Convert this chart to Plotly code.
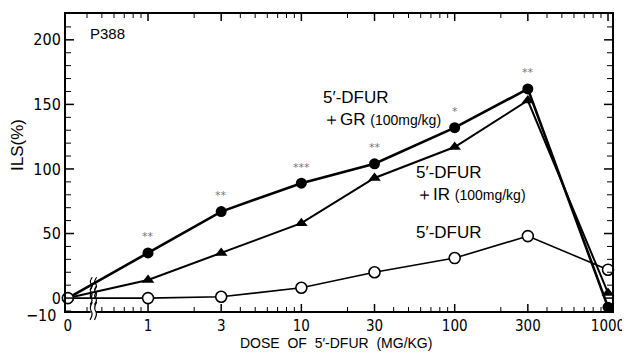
import numpy as np
import plotly.graph_objects as go

# ---- data ----
dose_labels = ["0", "1", "3", "10", "30", "100", "300", "1000"]
doses = [0, 1, 3, 10, 30, 100, 300, 1000]
ils_gr = [0, 35, 67, 89, 104, 132, 162, -7]      # 5'-DFUR + GR (100mg/kg)
ils_ir = [0, 14, 35, 58, 93, 117, 153, 4]        # 5'-DFUR + IR (100mg/kg)
ils_dfur = [0, 0, 1, 8, 20, 31, 48, 22]          # 5'-DFUR alone
sig_marks = ["**", "**", "***", "**", "*", "**"]  # significance marks on GR points
sig_dose = [1, 3, 10, 30, 100, 300]
sig_val = [35, 67, 89, 104, 132, 162]
y_ticks = [0, 50, 100, 150, 200]
y_minor = [-10, 10, 20, 30, 40, 60, 70, 80, 90, 110, 120, 130, 140,
           160, 170, 180, 190, 210]
x_minor = [0.4, 0.5, 0.6, 0.7, 0.8, 0.9,
           2, 4, 5, 6, 7, 8, 9,
           20, 40, 50, 60, 70, 80, 90,
           200, 400, 500, 600, 700, 800, 900]

ZERO_POS = 0.3   # position on the broken log axis where dose 0 is drawn
BREAK_POS = 0.44
xpos = [ZERO_POS if d == 0 else d for d in doses]

XMIN, XMAX = -0.535, 3.026
YMIN, YMAX = -10, 220
PLOT_W, PLOT_H = 546, 297

MAIN_FONT = "Liberation Sans, Arial, sans-serif"
NARROW = "DejaVu Sans Condensed, Liberation Sans Narrow, sans-serif"

fig = go.Figure()
fig.add_trace(go.Scatter(x=xpos, y=ils_gr, mode="lines+markers",
                         line=dict(color="black", width=2.6),
                         marker=dict(symbol="circle", size=11, color="black"),
                         cliponaxis=False, showlegend=False))
fig.add_trace(go.Scatter(x=xpos, y=ils_ir, mode="lines+markers",
                         line=dict(color="black", width=2),
                         marker=dict(symbol="triangle-up", size=11, color="black"),
                         cliponaxis=False, showlegend=False))
fig.add_trace(go.Scatter(x=xpos, y=ils_dfur, mode="lines+markers",
                         line=dict(color="black", width=1.6),
                         marker=dict(symbol="circle", size=11, color="white",
                                     line=dict(color="black", width=1.6)),
                         cliponaxis=False, showlegend=False))

# significance marks
for d, v, s in zip(sig_dose, sig_val, sig_marks):
    fig.add_annotation(x=np.log10(d), y=v, text=s, showarrow=False,
                       yshift=16, font=dict(size=11, color="#777777",
                                            family="DejaVu Sans"))

# series labels
lab_font = dict(size=17, color="black", family=MAIN_FONT)
small = "<span style='font-size:14px'>(100mg/kg)</span>"
fig.add_annotation(x=1.125, y=147, xanchor="left", yanchor="middle",
                   text="5′-DFUR<br>＋GR " + small,
                   showarrow=False, align="left", font=lab_font)
fig.add_annotation(x=1.735, y=89, xanchor="left", yanchor="middle",
                   text="5′-DFUR<br>＋IR " + small,
                   showarrow=False, align="left", font=lab_font)
fig.add_annotation(x=1.735, y=51, xanchor="left", yanchor="middle",
                   text="5′-DFUR", showarrow=False, align="left", font=lab_font)
fig.add_annotation(xref="paper", yref="paper", x=0.04, y=(311 - 33) / 297,
                   xanchor="left", yanchor="middle",
                   text="P388", showarrow=False,
                   font=dict(size=15, color="black", family=MAIN_FONT))

# axis titles
fig.add_annotation(xref="paper", yref="paper", x=(17 - 66) / 546, y=(311 - 145) / 297,
                   text="ILS(%)", textangle=-90, showarrow=False,
                   xanchor="center", yanchor="middle",
                   font=dict(size=17, color="black", family=MAIN_FONT))
fig.add_annotation(xref="paper", yref="paper", x=(336 - 66) / 546, y=-(343 - 311) / 297,
                   xanchor="center", yanchor="middle",
                   text="DOSE&nbsp; OF&nbsp; 5′-DFUR&nbsp; (MG/KG)", showarrow=False,
                   font=dict(size=14, color="black", family=MAIN_FONT))
# bottom y tick label (kept apart from the 0 label)
fig.add_annotation(xref="paper", yref="y", x=-0.015, y=YMIN, xanchor="right",
                   yanchor="middle", yshift=-4, text="−10", showarrow=False,
                   font=dict(size=16, family=NARROW, color="black"))


def xfrac(v):
    return (np.log10(v) - XMIN) / (XMAX - XMIN)


# inside tick marks on all four sides, placed from the tick lists
def add_xtick(v, length_px, width):
    fx = xfrac(v)
    ly = length_px / PLOT_H
    for y0, y1 in ((0, ly), (1 - ly, 1)):
        fig.add_shape(type="line", xref="paper", yref="paper", x0=fx, x1=fx,
                      y0=y0, y1=y1, line=dict(color="black", width=width))


def add_ytick(v, length_px, width):
    lx = length_px / PLOT_W
    for x0, x1 in ((0, lx), (1 - lx, 1)):
        fig.add_shape(type="line", xref="paper", yref="y", x0=x0, x1=x1,
                      y0=v, y1=v, line=dict(color="black", width=width))


for v in xpos:
    if v != ZERO_POS:
        add_xtick(v, 7, 1.5)
for v in x_minor:
    add_xtick(v, 4, 1)
for v in y_ticks:
    add_ytick(v, 8, 1.5)
for v in y_minor:
    add_ytick(v, 5, 1)

# axis break marks
bx = xfrac(BREAK_POS)
fig.add_shape(type="rect", xref="paper", yref="paper", x0=bx - 0.005, x1=bx + 0.005,
              y0=-0.01, y1=0.01, fillcolor="white", line=dict(width=0))
for off in (-0.004, 0.004):
    xc = bx + off
    fig.add_shape(type="path", xref="paper", yref="paper",
                  path=f"M {xc-0.002},-0.03 Q {xc+0.004},-0.01 {xc},0.0 T {xc+0.002},0.03",
                  line=dict(color="black", width=1.2))
    for series in (ils_gr, ils_ir, ils_dfur):
        frac = (np.log10(BREAK_POS) - np.log10(ZERO_POS)) / (0 - np.log10(ZERO_POS))
        v = series[0] + frac * (series[1] - series[0])
        fig.add_shape(type="path", xref="paper", yref="y",
                      path=f"M {xc-0.002},{v-5} Q {xc+0.004},{v-1.5} {xc},{v} T {xc+0.002},{v+5}",
                      line=dict(color="black", width=1.2))

common = dict(showgrid=False, zeroline=False, automargin=False, ticks="",
              showline=True, linecolor="black", linewidth=2, mirror=True)
fig.update_layout(
    xaxis=dict(type="log", range=[XMIN, XMAX],
               tickmode="array", tickvals=xpos, ticktext=dose_labels,
               tickfont=dict(size=15, family=NARROW, color="black"), **common),
    yaxis=dict(range=[YMIN, YMAX],
               tickmode="array", tickvals=y_ticks,
               tickfont=dict(size=16, family=NARROW, color="black"), **common),
)

# the page body has an 8px margin, so the figure is 8px smaller than the window
fig.update_layout(template="none", width=622, height=345,
                  margin=dict(l=58, r=18, t=6, b=42),
                  paper_bgcolor="white", plot_bgcolor="white")

fig.write_html("out.html")
